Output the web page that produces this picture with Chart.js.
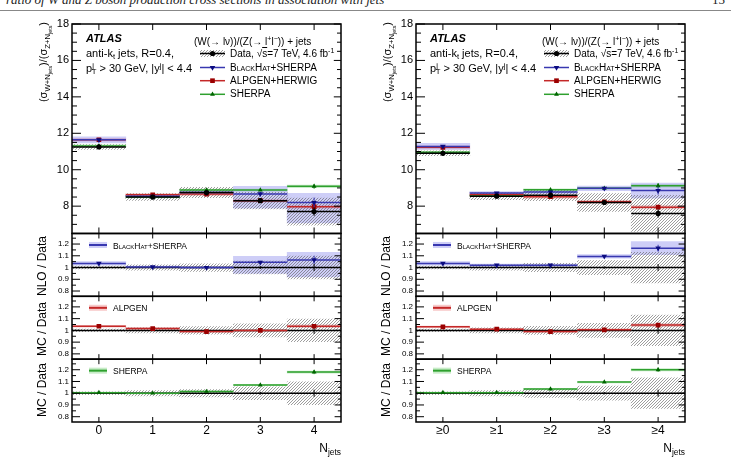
<!DOCTYPE html>
<html>
<head>
<meta charset="utf-8">
<script src="https://cdn.jsdelivr.net/npm/chart.js@4.4.1/dist/chart.umd.min.js"></script>
<style>
  body { margin: 0; background: #fff; font-family: "Liberation Sans", Arial, sans-serif; }
  #page { position: relative; width: 731px; height: 463px; overflow: hidden; background: #fff; }
  .panel { position: absolute; top: 0; width: 365px; height: 463px; }
  .panel canvas { position: absolute; left: 0; top: 0; }
  .t { position: absolute; white-space: nowrap; line-height: 1; color: #000; }
  sub, sup { font-size: 70%; line-height: 0; position: relative; vertical-align: baseline; }
  sub { top: 0.35em; }
  sup { top: -0.5em; }
  .rot { transform: translate(-50%, -50%) rotate(-90deg); }
  .sc { font-variant: small-caps; }
  .hdr { position: absolute; top: -8px; font: italic 13px "Liberation Serif", serif; white-space: nowrap; color: #222; }
</style>
</head>
<body>
<div id="page">
  <div class="hdr" style="left:6px">ratio of W and Z boson production cross sections in association with jets</div>
  <div class="hdr" style="left:712px;font-style:normal">15</div>
  <div style="position:absolute;left:0;top:10px;width:731px;height:1px;background:#888"></div>
  <div class="panel" id="left" style="left:0"><canvas id="cLeft" width="365" height="463"></canvas></div>
  <div class="panel" id="right" style="left:344px"><canvas id="cRight" width="365" height="463"></canvas></div>
</div>
<script>
// categories / tick labels
const xLabelsExcl = ['0', '1', '2', '3', '4'];
const xLabelsIncl = ['≥0', '≥1', '≥2', '≥3', '≥4'];
const yTicksMain = [8, 10, 12, 14, 16, 18];
const yTicksRatio = [0.8, 0.9, 1, 1.1, 1.2];

// exclusive jet multiplicity (left)
const dataExcl = [11.25, 8.5, 8.75, 8.3, 7.7];
const dataErrExcl = [0.012, 0.022, 0.032, 0.055, 0.097];
const dataStatExcl = [0.002, 0.003, 0.005, 0.012, 0.03];
const bhExcl = [1.035, 1.005, 1.0, 1.045, 1.065];
const bhLoExcl = [1.02, 0.997, 0.99, 0.95, 0.92];
const bhHiExcl = [1.05, 1.013, 1.01, 1.095, 1.13];
const bhStatExcl = [0.003, 0.004, 0.005, 0.012, 0.033];
const alExcl = [1.035, 1.015, 0.99, 1.0, 1.035];
const alErrExcl = [0.007, 0.008, 0.01, 0.01, 0.012];
const alStatExcl = [0.002, 0.003, 0.004, 0.006, 0.01];
const shExcl = [1.005, 1.0, 1.015, 1.07, 1.18];
const shErrExcl = [0.005, 0.005, 0.006, 0.006, 0.008];
const shStatExcl = [0.002, 0.003, 0.004, 0.006, 0.015];

// inclusive jet multiplicity (right)
const dataIncl = [10.9, 8.55, 8.6, 8.2, 7.6];
const dataErrIncl = [0.012, 0.022, 0.035, 0.06, 0.13];
const dataStatIncl = [0.002, 0.003, 0.005, 0.01, 0.03];
const bhIncl = [1.035, 1.02, 1.02, 1.095, 1.165];
const bhLoIncl = [1.02, 1.01, 1.01, 1.08, 1.11];
const bhHiIncl = [1.05, 1.03, 1.03, 1.11, 1.22];
const bhStatIncl = [0.003, 0.004, 0.005, 0.008, 0.025];
const alIncl = [1.03, 1.01, 0.99, 1.005, 1.045];
const alErrIncl = [0.007, 0.008, 0.01, 0.01, 0.012];
const alStatIncl = [0.002, 0.003, 0.004, 0.006, 0.01];
const shIncl = [1.005, 1.005, 1.035, 1.095, 1.2];
const shErrIncl = [0.005, 0.005, 0.006, 0.006, 0.008];
const shStatIncl = [0.002, 0.003, 0.004, 0.006, 0.015];

const cBH = { line: '#3838b0', mark: '#0c0c80', band: 'rgba(125,125,235,0.38)' };
const cAL = { line: '#c42828', mark: '#9a0000', band: 'rgba(235,120,120,0.38)' };
const cSH = { line: '#2ea02e', mark: '#006400', band: 'rgba(110,205,110,0.38)' };

Chart.defaults.font.family = "'Liberation Sans', Arial, sans-serif";
Chart.defaults.color = '#000';

function hatch() {
  const c = document.createElement('canvas');
  c.width = 3; c.height = 3;
  const g = c.getContext('2d');
  g.strokeStyle = 'rgba(95,95,95,0.72)';
  g.lineWidth = 0.85;
  g.beginPath();
  g.moveTo(0, 3); g.lineTo(3, 0);
  g.moveTo(-1, 1); g.lineTo(1, -1);
  g.moveTo(2, 4); g.lineTo(4, 2);
  g.stroke();
  return g.createPattern(c, 'repeat');
}
const pattern = hatch();

// horizontal bin lines + vertical stat errors, under the markers
const binPlugin = {
  id: 'bins',
  beforeDatasetDraw(chart, args) {
    const ds = chart.data.datasets[args.index];
    if (!ds.binLine) return;
    const ctx = chart.ctx, xs = chart.scales.x, ys = chart.scales[ds.yAxisID];
    ctx.save();
    ctx.strokeStyle = ds.borderColor;
    ctx.lineWidth = 1.5;
    ds.data.forEach((p, i) => {
      const y = ys.getPixelForValue(p.y);
      ctx.beginPath();
      ctx.moveTo(xs.getPixelForValue(p.x - 0.5), y);
      ctx.lineTo(xs.getPixelForValue(p.x + 0.5), y);
      ctx.stroke();
      if (ds.statErr) {
        const e = p.y * ds.statErr[i], cx = xs.getPixelForValue(p.x);
        ctx.lineWidth = 1;
        ctx.beginPath();
        ctx.moveTo(cx, ys.getPixelForValue(p.y - e));
        ctx.lineTo(cx, ys.getPixelForValue(p.y + e));
        ctx.stroke();
        ctx.lineWidth = 1.5;
      }
    });
    ctx.restore();
  }
};

// ATLAS style frame, inward ticks, legend symbols
const framePlugin = {
  id: 'frame',
  afterDraw(chart) {
    const ctx = chart.ctx, { left, right } = chart.chartArea, xs = chart.scales.x;
    const panels = [
      { id: 'y', minor: 0.5, major: 9, minorLen: 5, xt: 6 },
      { id: 'r1', minor: 0.05, major: 8, minorLen: 4, xt: 5 },
      { id: 'r2', minor: 0.05, major: 8, minorLen: 4, xt: 5 },
      { id: 'r3', minor: 0.05, major: 8, minorLen: 4, xt: 5 }
    ];
    ctx.save();
    ctx.strokeStyle = '#000';
    panels.forEach(p => {
      const s = chart.scales[p.id];
      const majors = s.ticks.map(t => t.value);
      ctx.lineWidth = 1;
      const n0 = Math.ceil(s.min / p.minor - 1e-6), n1 = Math.floor(s.max / p.minor + 1e-6);
      for (let n = n0; n <= n1; n++) {
        const v = n * p.minor;
        const len = majors.some(m => Math.abs(m - v) < 1e-6) ? p.major : p.minorLen;
        const y = s.getPixelForValue(v);
        ctx.beginPath();
        ctx.moveTo(left, y); ctx.lineTo(left + len, y);
        ctx.moveTo(right, y); ctx.lineTo(right - len * 0.8, y);
        ctx.stroke();
      }
      xs.ticks.forEach(t => {
        const x = xs.getPixelForValue(t.value);
        ctx.beginPath();
        ctx.moveTo(x, s.top); ctx.lineTo(x, s.top + p.xt);
        ctx.moveTo(x, s.bottom); ctx.lineTo(x, s.bottom - p.xt);
        ctx.stroke();
      });
      ctx.lineWidth = 1.5;
      ctx.strokeRect(left, s.top, right - left, s.bottom - s.top);
    });

    // legend symbols, top panel
    const lx0 = 200, lx1 = 225, lxc = 212.5;
    const rows = [53.5, 67.5, 80.7, 94.3];
    ctx.fillStyle = pattern;
    ctx.fillRect(lx0, rows[0] - 3.5, lx1 - lx0, 7);
    const sym = [
      { line: '#000', mark: '#000', style: 'circle', rot: 0, r: 2.6 },
      { line: cBH.line, mark: cBH.mark, style: 'triangle', rot: 180, r: 3.2 },
      { line: cAL.line, mark: cAL.mark, style: 'rect', rot: 0, r: 3.3 },
      { line: cSH.line, mark: cSH.mark, style: 'triangle', rot: 0, r: 2.8 }
    ];
    sym.forEach((m, i) => {
      ctx.strokeStyle = m.line; ctx.lineWidth = 1.5;
      ctx.beginPath(); ctx.moveTo(lx0, rows[i]); ctx.lineTo(lx1, rows[i]); ctx.stroke();
      ctx.fillStyle = m.mark;
      Chart.helpers.drawPoint(ctx, { pointStyle: m.style, rotation: m.rot, radius: m.r, borderWidth: 0 }, lxc, rows[i]);
    });

    // legend symbols, ratio panels
    [['r1', cBH], ['r2', cAL], ['r3', cSH]].forEach(([id, c]) => {
      const y = chart.scales[id].top + 11.5;
      ctx.fillStyle = c.band;
      ctx.fillRect(89, y - 3, 18, 6);
      ctx.strokeStyle = c.line; ctx.lineWidth = 2;
      ctx.beginPath(); ctx.moveTo(89, y); ctx.lineTo(107, y); ctx.stroke();
    });
    ctx.restore();
  }
};

function makeChart(canvasId, xLabels, d) {
  const pts = vals => vals.map((v, i) => ({ x: i, y: v }));
  const box = (lo, hi) => lo.map((v, i) => ({ x: i, y: [v, hi[i]] }));
  const mul = (a, b) => a.map((v, i) => v * b[i]);
  const pm = (vals, err, sgn) => vals.map((v, i) => v * (1 + sgn * err[i]));
  const ones = xLabels.map(() => 1);
  const bar = (axis, data, color, order) => ({
    type: 'bar', yAxisID: axis, data, backgroundColor: color, borderWidth: 0,
    grouped: false, barPercentage: 1, categoryPercentage: 1, order
  });
  const line = (axis, data, c, style, rot, r, stat, order) => ({
    type: 'scatter', yAxisID: axis, data, binLine: true, statErr: stat,
    borderColor: c.line, pointBackgroundColor: c.mark, pointBorderWidth: 0,
    pointStyle: style, pointRotation: rot, pointRadius: r, order
  });

  const models = [
    { axis: 'r1', val: d.bh, lo: d.bhLo, hi: d.bhHi, stat: d.bhStat, c: cBH, style: 'triangle', rot: 180, r: 3.2 },
    { axis: 'r2', val: d.al, lo: pm(d.al, d.alErr, -1), hi: pm(d.al, d.alErr, 1), stat: d.alStat, c: cAL, style: 'rect', rot: 0, r: 3.3 },
    { axis: 'r3', val: d.sh, lo: pm(d.sh, d.shErr, -1), hi: pm(d.sh, d.shErr, 1), stat: d.shStat, c: cSH, style: 'triangle', rot: 0, r: 2.8 }
  ];
  const black = { line: '#000', mark: '#000' };
  const datasets = [];
  models.forEach(m => {
    datasets.push(bar('y', box(mul(m.lo, d.data), mul(m.hi, d.data)), m.c.band, 6));
    datasets.push(line('y', pts(mul(m.val, d.data)), m.c, m.style, m.rot, m.r, m.stat, 2));
    datasets.push(bar(m.axis, box(m.lo, m.hi), m.c.band, 6));
    datasets.push(bar(m.axis, box(pm(ones, d.dataErr, -1), pm(ones, d.dataErr, 1)), pattern, 5));
    datasets.push(line(m.axis, pts(ones), black, 'circle', 0, 0, d.dataStat, 3));
    datasets.push(line(m.axis, pts(m.val), m.c, m.style, m.rot, m.r, m.stat, 2));
  });
  datasets.push(bar('y', box(pm(d.data, d.dataErr, -1), pm(d.data, d.dataErr, 1)), pattern, 5));
  datasets.push(line('y', pts(d.data), black, 'circle', 0, 2.6, d.dataStat, 1));

  const yScale = (weight, min, max, tickVals, size) => ({
    type: 'linear', position: 'left', stack: 'panels', stackWeight: weight, min, max,
    grid: { display: false, drawTicks: false }, border: { display: false },
    ticks: { autoSkip: false, padding: 3, color: '#000', font: { size }, callback: v => String(v) },
    afterBuildTicks: s => { s.ticks = tickVals.map(v => ({ value: v })); },
    afterFit: s => { s.width = 72; }
  });

  new Chart(document.getElementById(canvasId), {
    type: 'bar',
    data: { datasets },
    options: {
      responsive: false,
      animation: false,
      devicePixelRatio: 1,
      layout: { padding: { left: 0, right: 24, top: 24, bottom: 0 } },
      plugins: { legend: { display: false }, tooltip: { enabled: false } },
      scales: {
        x: {
          type: 'linear', position: 'bottom', min: -0.5, max: 4.5, offset: false,
          grid: { display: false, drawTicks: false }, border: { display: false },
          ticks: { padding: 1, color: '#000', font: { size: 12 }, autoSkip: false, maxRotation: 0,
            callback: (v, i) => xLabels[i] },
          afterBuildTicks: s => { s.ticks = xLabels.map((l, i) => ({ value: i })); },
          afterFit: s => { s.height = 41; }
        },
        r3: yScale(3, 0.755, 1.29, yTicksRatio, 8),
        r2: yScale(3, 0.755, 1.29, yTicksRatio, 8),
        r1: yScale(3, 0.755, 1.29, yTicksRatio, 8),
        y: yScale(10, 6.5, 18, yTicksMain, 11)
      }
    },
    plugins: [binPlugin, framePlugin]
  });
}

function addTexts(panelId, headerX) {
  document.getElementById(panelId).insertAdjacentHTML('beforeend', `
    <div class="t" style="left:86px;top:32.3px;font:italic bold 11px 'Liberation Sans'">ATLAS</div>
    <div class="t" style="left:86px;top:47.6px;font-size:11px">anti-k<sub>t</sub> jets, R=0.4,</div>
    <div class="t" style="left:86px;top:62.6px;font-size:11px">p<sup>j</sup><sub style="margin-left:-2.2px">T</sub> &gt; 30 GeV, |y<sup>j</sup>| &lt; 4.4</div>
    <div class="t" style="left:${headerX}px;top:36.8px;font-size:10px">(W(→ lν))/(Z(→ l<sup>+</sup>l<sup>−</sup>)) + jets</div>
    <div class="t" style="left:230px;top:48.6px;font-size:10px">Data, √<span style="text-decoration:overline">s</span>=7 TeV, 4.6 fb<sup>-1</sup></div>
    <div class="t" style="left:230px;top:62.6px;font-size:10px"><span class="sc">BlackHat</span>+SHERPA</div>
    <div class="t" style="left:230px;top:75.8px;font-size:10px">ALPGEN+HERWIG</div>
    <div class="t" style="left:230px;top:89.4px;font-size:10px">SHERPA</div>
    <div class="t" style="left:113px;top:241.6px;font-size:8.5px"><span class="sc">BlackHat</span>+SHERPA</div>
    <div class="t" style="left:113px;top:303.8px;font-size:8.5px">ALPGEN</div>
    <div class="t" style="left:113px;top:367.1px;font-size:8.5px">SHERPA</div>
    <div class="t rot" style="left:43px;top:62px;font-size:11px">(σ<sub>W+N<sub>jets</sub></sub>)/(σ<sub>Z+N<sub>jets</sub></sub>)</div>
    <div class="t rot" style="left:41.5px;top:266px;font-size:12px">NLO / Data</div>
    <div class="t rot" style="left:41.5px;top:329px;font-size:12px">MC / Data</div>
    <div class="t rot" style="left:41.5px;top:390px;font-size:12px">MC / Data</div>
    <div class="t" style="right:24px;top:441.6px;font-size:12px">N<sub>jets</sub></div>
  `);
}

makeChart('cLeft', xLabelsExcl, {
  data: dataExcl, dataErr: dataErrExcl, dataStat: dataStatExcl,
  bh: bhExcl, bhLo: bhLoExcl, bhHi: bhHiExcl, bhStat: bhStatExcl,
  al: alExcl, alErr: alErrExcl, alStat: alStatExcl,
  sh: shExcl, shErr: shErrExcl, shStat: shStatExcl
});
makeChart('cRight', xLabelsIncl, {
  data: dataIncl, dataErr: dataErrIncl, dataStat: dataStatIncl,
  bh: bhIncl, bhLo: bhLoIncl, bhHi: bhHiIncl, bhStat: bhStatIncl,
  al: alIncl, alErr: alErrIncl, alStat: alStatIncl,
  sh: shIncl, shErr: shErrIncl, shStat: shStatIncl
});
addTexts('left', 194);
addTexts('right', 198);
</script>
</body>
</html>
